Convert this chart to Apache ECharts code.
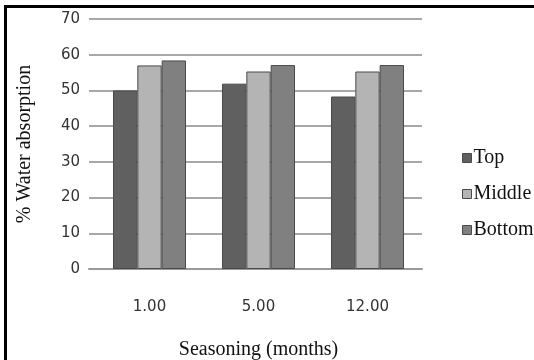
<!DOCTYPE html>
<html><head><meta charset="utf-8">
<script src="https://cdn.jsdelivr.net/npm/echarts@6/dist/echarts.min.js"></script>
<style>html,body{margin:0;padding:0;background:#fff}#c{width:534px;height:360px}</style>
</head><body><div id="c"></div>
<script>
const categories = ['1.00', '5.00', '12.00'];
const seriesNames = ['Top', 'Middle', 'Bottom'];
const topValues = [50.0, 51.9, 48.3];
const middleValues = [57.0, 55.3, 55.3];
const bottomValues = [58.4, 57.1, 57.1];
const yTicks = [0, 10, 20, 30, 40, 50, 60, 70];

const colors = ['#606060', '#b4b4b4', '#808080'];
const chart = echarts.init(document.getElementById('c'), null, {renderer: 'canvas'});
const serif = 'Liberation Serif';
const yMin = yTicks[0], yMax = yTicks[yTicks.length - 1];
const mk = (name, data, i) => ({
  name, type: 'bar', data, barGap: '0%', barCategoryGap: '33%',
  xAxisIndex: 1, yAxisIndex: 1,
  itemStyle: {color: colors[i], borderColor: '#4a4a4a', borderWidth: 1},
  animation: false
});
chart.setOption({
  animation: false,
  grid: [
    {left: 89, right: 112, top: 19, bottom: 91, containLabel: false, outerBoundsMode: 'none'},
    {left: 95, right: 112, top: 19, bottom: 91, containLabel: false, outerBoundsMode: 'none'}
  ],
  graphic: [
    {type: 'rect', shape: {x: 5.5, y: 6.5, width: 600, height: 400}, style: {fill: 'none', stroke: '#000', lineWidth: 3}, silent: true}
  ],
  legend: {
    orient: 'vertical', left: 457, top: 143, itemGap: 16, itemWidth: 9, itemHeight: 9,
    icon: 'rect', data: seriesNames,
    itemStyle: {borderColor: '#4a4a4a', borderWidth: 1},
    textStyle: {fontFamily: serif, fontSize: 20, color: '#111', padding: [0, 0, 0, -3]}
  },
  xAxis: [{
    gridIndex: 0, type: 'category', data: categories,
    axisLine: {lineStyle: {color: '#9a9a9a', width: 2}},
    axisTick: {show: false}, axisLabel: {show: false}
  }, {
    gridIndex: 1, type: 'category', data: categories,
    name: 'Seasoning (months)', nameLocation: 'middle', nameGap: 71,
    nameTextStyle: {fontFamily: serif, fontSize: 20, color: '#111'},
    axisLine: {show: false},
    axisTick: {show: false},
    axisLabel: {fontFamily: 'DejaVu Sans', fontSize: 15, color: '#333', margin: 31}
  }],
  yAxis: [{
    gridIndex: 0, type: 'value', min: yMin, max: yMax, interval: 10,
    name: '% Water absorption', nameLocation: 'middle', nameGap: 54,
    nameTextStyle: {fontFamily: serif, fontSize: 20, color: '#111'},
    axisLine: {show: false}, axisTick: {show: false},
    splitLine: {lineStyle: {color: '#a8a8a8', width: 2}},
    axisLabel: {fontFamily: 'DejaVu Sans', fontSize: 15, color: '#333', margin: 9}
  }, {
    gridIndex: 1, type: 'value', min: yMin, max: yMax, interval: 10,
    axisLine: {show: false}, axisTick: {show: false}, splitLine: {show: false}, axisLabel: {show: false}
  }],
  series: [mk(seriesNames[0], topValues, 0), mk(seriesNames[1], middleValues, 1), mk(seriesNames[2], bottomValues, 2)]
});
</script></body></html>
